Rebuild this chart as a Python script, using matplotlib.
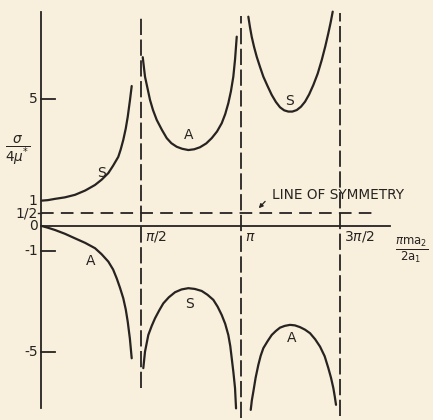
import numpy as np
import matplotlib.pyplot as plt

# Branches of sigma/(4 mu*) against pi*m*a2/(2*a1); x in radians
s1_x = [0.0, 0.10, 0.213, 0.37, 0.529, 0.69, 0.845, 0.95, 1.055, 1.13,
        1.212, 1.25, 1.291, 1.33, 1.361, 1.397, 1.424]
s1_y = [1.0, 1.02, 1.07, 1.13, 1.23, 1.40, 1.62, 1.83, 2.09, 2.38,
        2.73, 3.02, 3.40, 3.85, 4.31, 4.98, 5.53]

a1_x = [0.0, 0.10, 0.213, 0.37, 0.529, 0.69, 0.845, 0.95, 1.055, 1.13,
        1.187, 1.24, 1.291, 1.33, 1.361, 1.395, 1.424]
a1_y = [0.0, -0.07, -0.16, -0.31, -0.49, -0.67, -0.88, -1.12, -1.41, -1.72,
        -2.07, -2.45, -2.86, -3.30, -3.78, -4.45, -5.23]

a2_x = [1.598, 1.634, 1.713, 1.76, 1.819, 1.90, 1.977, 2.05, 2.134, 2.22,
        2.318, 2.41, 2.502, 2.60, 2.687, 2.77, 2.845, 2.90, 2.949, 2.99,
        3.028, 3.056, 3.082]
a2_y = [6.67, 5.90, 4.98, 4.58, 4.19, 3.80, 3.47, 3.27, 3.13, 3.05,
        3.00, 3.03, 3.11, 3.26, 3.47, 3.73, 4.06, 4.42, 4.85, 5.32,
        5.90, 6.60, 7.48]

s2_x = [1.607, 1.634, 1.686, 1.74, 1.792, 1.86, 1.923, 2.01, 2.108, 2.21,
        2.318, 2.42, 2.529, 2.62, 2.712, 2.78, 2.845, 2.90, 2.949, 2.98,
        3.003, 3.03, 3.055, 3.071]
s2_y = [-5.62, -4.97, -4.31, -3.95, -3.65, -3.33, -3.06, -2.82, -2.62, -2.51,
        -2.46, -2.49, -2.57, -2.72, -2.92, -3.19, -3.52, -3.87, -4.31, -4.75,
        -5.23, -5.80, -6.41, -7.21]

s3_x = [3.265, 3.29, 3.318, 3.355, 3.397, 3.45, 3.502, 3.57, 3.634, 3.70,
        3.765, 3.83, 3.896, 3.96, 4.029, 4.095, 4.160, 4.225, 4.291, 4.36,
        4.424, 4.48, 4.528, 4.565, 4.597]
s3_y = [8.27, 7.87, 7.48, 7.08, 6.69, 6.28, 5.90, 5.52, 5.18, 4.90,
        4.69, 4.57, 4.52, 4.52, 4.58, 4.71, 4.91, 5.20, 5.57, 6.02,
        6.56, 7.10, 7.62, 8.05, 8.47]

a3_x = [3.303, 3.32, 3.344, 3.38, 3.423, 3.46, 3.502, 3.57, 3.634, 3.70,
        3.765, 3.84, 3.923, 4.00, 4.081, 4.16, 4.239, 4.32, 4.397, 4.47,
        4.528, 4.57, 4.607, 4.63, 4.649]
a3_y = [-7.27, -6.90, -6.55, -6.00, -5.49, -5.13, -4.83, -4.55, -4.31, -4.15,
        -4.02, -3.95, -3.91, -3.93, -4.00, -4.10, -4.24, -4.48, -4.77, -5.15,
        -5.62, -6.00, -6.41, -6.75, -7.07]

y_ticks = [5, 1, 0.5, 0, -1, -5]
y_tick_labels = ["5", "1", "1/2", "0", "-1", "-5"]
x_ticks = [np.pi / 2, np.pi, 3 * np.pi / 2]
x_tick_labels = [r"$\pi/2$", r"$\pi$", r"$3\pi/2$"]

# (x, y, text) for branch labels
branch_labels = [(0.94, 2.08, "S"), (0.77, -1.40, "A"),
                 (2.32, 3.59, "A"), (2.33, -3.09, "S"),
                 (3.91, 4.95, "S"), (3.95, -4.42, "A")]

INK = "#262321"
PAPER = "#f8efdc"

fig = plt.figure(figsize=(4.33, 4.20), dpi=100, facecolor=PAPER)
ax = fig.add_axes([0, 0, 1, 1])
ax.set_facecolor(PAPER)
ax.axis("off")
ax.set_xlim(-0.655, 6.18)
ax.set_ylim(-7.67, 8.93)

# axes
ax.plot([0, 0], [-7.2, 8.46], color=INK, lw=1.3)
ax.plot([0, 5.50], [0, 0], color=INK, lw=1.3)
for yt in (5, -1, -5):
    ax.plot([0, 0.21], [yt, yt], color=INK, lw=1.3)
ax.plot([-0.06, 0], [0.5, 0.5], color=INK, lw=1.0)

# asymptotes
for xv, (y0, y1) in zip(x_ticks, [(-6.4, 8.2), (-7.6, 8.3), (-7.5, 8.4)]):
    ax.plot([xv, xv], [y0, y1], color=INK, lw=1.3, dashes=(9, 2.5))

# line of symmetry
ax.plot([0, 5.30], [0.5, 0.5], color=INK, lw=1.3, dashes=(7, 4))
ax.annotate("", xy=(3.40, 0.62), xytext=(3.56, 1.05),
            arrowprops=dict(arrowstyle="-|>", color=INK, lw=0.9,
                            mutation_scale=6))
ax.text(3.64, 1.22, "LINE OF SYMMETRY", fontsize=9.8, color=INK,
        ha="left", va="center", family="DejaVu Sans")

# branches
for xs, ys in [(s1_x, s1_y), (a1_x, a1_y), (a2_x, a2_y),
               (s2_x, s2_y), (s3_x, s3_y), (a3_x, a3_y)]:
    ax.plot(xs, ys, color=INK, lw=1.6, solid_capstyle="round",
            solid_joinstyle="round")

for x, y, t in branch_labels:
    ax.text(x, y, t, fontsize=10, color=INK, ha="center", va="center")

# tick labels
for yt, lab in zip(y_ticks, y_tick_labels):
    ax.text(-0.06, yt, lab, fontsize=10, color=INK, ha="right",
            va="center")
for xt, lab in zip(x_ticks, x_tick_labels):
    ax.text(xt + 0.07, -0.42, lab, fontsize=10, color=INK, ha="left",
            va="center")

ax.text(-0.38, 3.0, r"$\frac{\sigma}{4\mu^{*}}$", fontsize=14, color=INK,
        ha="center", va="center")
ax.text(5.84, -0.95, r"$\frac{\pi \mathrm{m} \mathrm{a}_2}{2 \mathrm{a}_1}$",
        fontsize=12, color=INK, ha="center", va="center")

fig.savefig("out.png", dpi=100, facecolor=PAPER)
